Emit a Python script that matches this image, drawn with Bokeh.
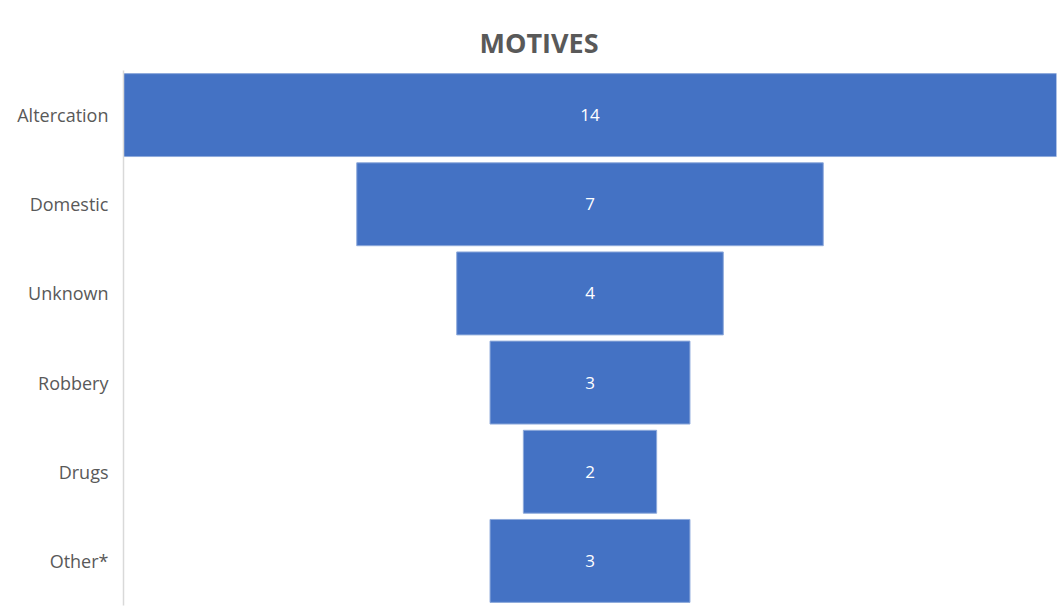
from bokeh.plotting import figure
from bokeh.models import ColumnDataSource, FactorRange, Range1d
from bokeh.core.properties import value
from bokeh.embed import file_html
from bokeh.resources import INLINE

categories = ["Altercation", "Domestic", "Unknown", "Robbery", "Drugs", "Other*"]
counts = [14, 7, 4, 3, 2, 3]

src = ColumnDataSource(dict(
    cat=categories,
    left=[-c / 2 for c in counts],
    right=[c / 2 for c in counts],
    x=[0] * len(counts),
    label=[str(c) for c in counts],
))

p = figure(width=1058, height=612, output_backend="svg", toolbar_location=None,
           y_range=FactorRange(*reversed(categories), range_padding=0),
           x_range=Range1d(-7, 7),
           min_border_left=123, min_border_right=2, min_border_top=70, min_border_bottom=7)

p.title.text = "MOTIVES"
p.title.align = "left"
p.title.text_font = "Open Sans"
p.title.text_font_style = "bold"
p.title.text_font_size = "27px"
p.title.text_color = "#595959"
p.title.offset = 356
p.title.standoff = 19

p.hbar(y="cat", left="left", right="right", height=0.93, source=src,
       fill_color="#4472c4", line_color="#8eaadb", line_width=1)
p.text(x="x", y="cat", text="label", source=src, text_align="center",
       text_baseline="middle", text_color="white", text_font_size="17px",
       text_font=value("Open Sans"))

p.xaxis.visible = False
p.xgrid.visible = False
p.ygrid.visible = False
p.outline_line_color = None
p.yaxis.axis_line_color = "#d9d9d9"
p.yaxis.axis_line_width = 1.5
p.yaxis.major_tick_line_color = None
p.yaxis.minor_tick_line_color = None
p.yaxis.major_label_standoff = 9
p.yaxis.major_label_text_font = "Open Sans"
p.yaxis.major_label_text_font_size = "18px"
p.yaxis.major_label_text_color = "#595959"

open("out.html", "w").write(file_html(p, INLINE))
